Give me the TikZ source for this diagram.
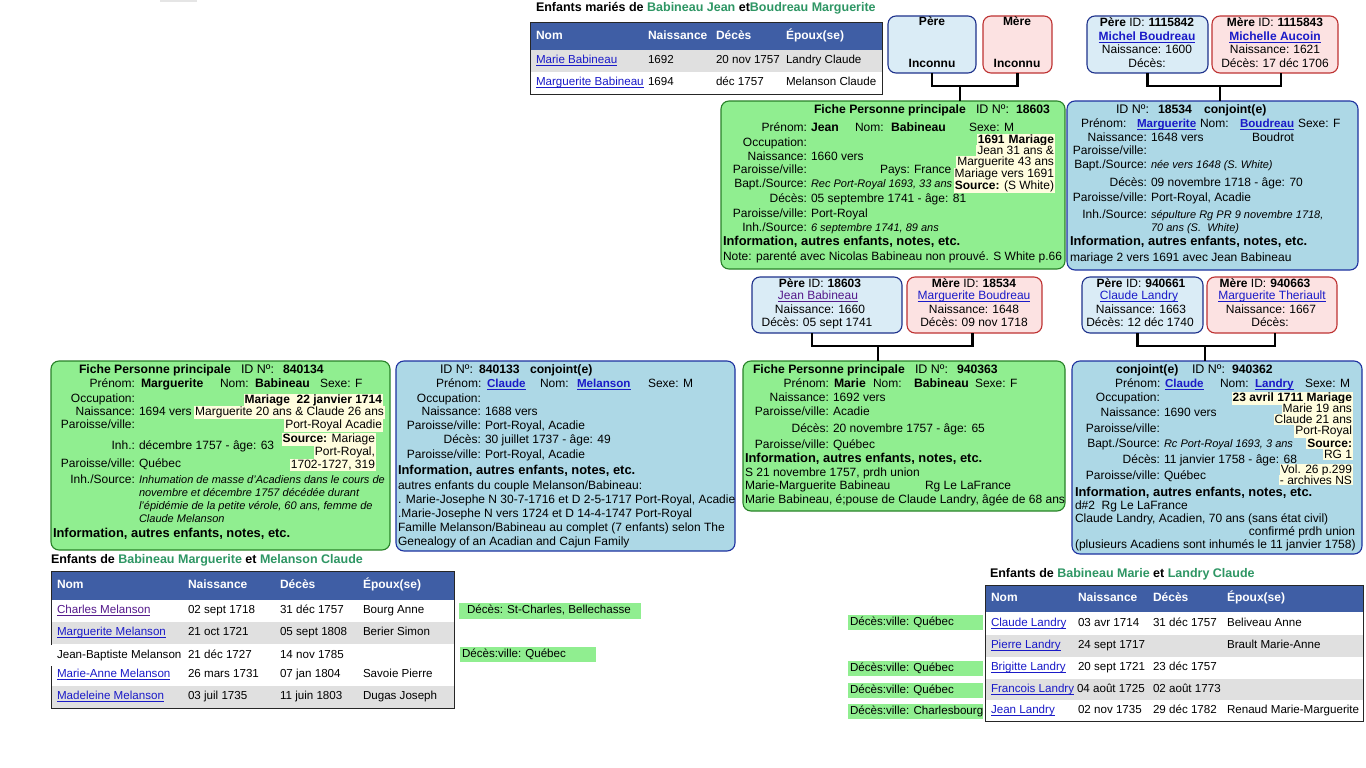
\documentclass[tikz,border=0pt]{standalone}
\usepackage{fontspec}
\setmainfont{Liberation Sans}
\definecolor{gfill}{RGB}{144,238,144}
\definecolor{gline}{RGB}{40,130,40}
\definecolor{bfill}{RGB}{173,216,230}
\definecolor{bline}{RGB}{30,50,160}
\definecolor{pfill}{RGB}{218,236,246}
\definecolor{pline}{RGB}{30,50,140}
\definecolor{mfill}{RGB}{252,226,226}
\definecolor{mline}{RGB}{190,50,50}
\definecolor{hdr}{RGB}{63,94,165}
\definecolor{rowg}{RGB}{224,224,224}
\definecolor{lnk}{RGB}{26,26,200}
\definecolor{vis}{RGB}{85,26,139}
\definecolor{grn}{RGB}{46,150,100}
\definecolor{hl}{RGB}{255,253,222}
\definecolor{lbl}{RGB}{144,238,144}
\newcommand\ulx[1]{\setbox0\hbox{#1}\rlap{\rule[-2pt]{\wd0}{0.7pt}}\box0}
\newcommand\lk[1]{\textcolor{lnk}{\ulx{#1}}}
\newcommand\vk[1]{\textcolor{vis}{\ulx{#1}}}
\newcommand\gsp{\hspace{4pt}}
\newcounter{nn}
\tikzset{
 autoname/.code={\stepcounter{nn}\pgfkeysalso{name/.expanded=t\arabic{nn}}},
 tx/.style={inner sep=0pt, outer sep=0pt, font=\fontsize{12}{14}\selectfont, autoname},
 bf/.style={font=\fontsize{12.2}{14}\selectfont\bfseries},
 info/.style={font=\fontsize{12.9}{14}\selectfont\bfseries},
 it/.style={font=\fontsize{11}{13}\selectfont\itshape},
 idn/.style={font=\fontsize{12.5}{14}\selectfont},
 lkb/.style={font=\fontsize{11.6}{14}\selectfont\bfseries},
 ttl/.style={font=\fontsize{12.5}{14}\selectfont\bfseries},
 tb/.style={font=\fontsize{11.6}{14}\selectfont},
 wh/.style={text=white, font=\fontsize{12}{14}\selectfont\bfseries},
 hlt/.style={fill=hl, inner xsep=1pt, inner ysep=0.8pt},
 pm/.style={font=\fontsize{12}{14}\selectfont},
 lb/.style={font=\fontsize{11.6}{14}\selectfont},
 boxbase/.style={line width=1.1pt, rounded corners=8pt, anchor=north west, inner sep=0pt, outer sep=0pt},
 gbox/.style={boxbase, draw=gline, fill=gfill},
 bbox/.style={boxbase, draw=bline, fill=bfill},
 pbox/.style={boxbase, draw=pline, fill=pfill},
 mbox/.style={boxbase, draw=mline, fill=mfill},
 brk/.style={line width=2.6pt},
 tbl/.style={draw=black!85, line width=1.2pt},
}
\newcommand\txL[4][]{\node[tx,anchor=mid west,#1] at (#2,#3) {#4};}
\newcommand\txR[4][]{\node[tx,anchor=mid east,#1] at (#2,#3) {#4};}
\newcommand\txC[4][]{\node[tx,anchor=mid,#1] at (#2,#3) {#4};}
\newcommand\lv[5][]{\node[tx,anchor=mid east] at (#2,#3) {#4};\node[tx,anchor=mid west,#1] at (#2+4,#3) {#5};}
\begin{document}
\begin{tikzpicture}[x=1pt,y=-1pt]
\useasboundingbox[fill=white] (0,0) rectangle (1366,768);
\fill[gray!20] (160,0) rectangle (197,2);

% ---------- boxes ----------
\node[pbox, minimum width=88pt, minimum height=57pt] (p0) at (888,16) {};
\node[mbox, minimum width=69pt, minimum height=57pt] (m0) at (983,16) {};
\node[pbox, minimum width=121pt, minimum height=57pt] (p1) at (1087,16) {};
\node[mbox, minimum width=126pt, minimum height=57pt] (m1) at (1212,16) {};
\node[gbox, minimum width=344pt, minimum height=168pt] (f0) at (721,101) {};
\node[bbox, minimum width=291pt, minimum height=169pt] (c0) at (1067,101) {};
\node[pbox, minimum width=150pt, minimum height=56pt] (p2) at (752,277) {};
\node[mbox, minimum width=135pt, minimum height=56pt] (m2) at (907,277) {};
\node[pbox, minimum width=121pt, minimum height=56pt] (p3) at (1082,277) {};
\node[mbox, minimum width=130pt, minimum height=56pt] (m3) at (1207,277) {};
\node[gbox, minimum width=339pt, minimum height=189pt] (f1) at (51,361) {};
\node[bbox, minimum width=339pt, minimum height=190pt] (c1) at (396,361) {};
\node[gbox, minimum width=322pt, minimum height=150pt] (f2) at (743,361) {};
\node[bbox, minimum width=290pt, minimum height=193pt] (c2) at (1072,361) {};

% ---------- brackets ----------
\coordinate (k0) at (960,86);
\draw[brk] (p0.south) |- (k0) -| (m0.south);
\draw[brk] (k0) -- (k0 |- f0.north);
\coordinate (k1) at (1220,86);
\draw[brk] (p1.south) |- (k1) -| ([xshift=6pt]m1.south);
\draw[brk] (k1) -- (k1 |- c0.north);
\coordinate (k2) at (878,346);
\draw[brk] ([xshift=-15pt]p2.south) |- (k2) -| ([xshift=-2pt]m2.south);
\draw[brk] (k2) -- (k2 |- f2.north);
\coordinate (k3) at (1205,346);
\draw[brk] ([xshift=-5pt]p3.south) |- (k3) -| ([xshift=3pt]m3.south);
\draw[brk] (k3) -- (k3 |- c2.north);

% ---------- top table ----------
\txL[ttl]{536}{9}{Enfants mariés de \textcolor{grn}{Babineau Jean} et\textcolor{grn}{Boudreau Marguerite}}
\fill[hdr] (531,23) rectangle (882,50);
\fill[rowg] (531,50) rectangle (882,72);
\draw[tbl] (530.5,22.5) rectangle (882.5,94.5);
\txL[wh]{536}{37}{Nom} \txL[wh]{648}{37}{Naissance} \txL[wh]{716}{37}{Décès} \txL[wh]{786}{37}{Époux(se)}
\txL[tb]{536}{61}{\lk{Marie Babineau}} \txL[tb]{648}{61}{1692} \txL[tb]{716}{61}{20 nov 1757} \txL[tb]{786}{61}{Landry Claude}
\txL[tb]{536}{83}{\lk{Marguerite Babineau}} \txL[tb]{648}{83}{1694} \txL[tb]{716}{83}{déc 1757} \txL[tb]{786}{83}{Melanson Claude}

% ---------- top parents ----------
\txC[pm]{932}{23}{\textbf{Père}} \txC[pm]{932}{65}{\textbf{Inconnu}}
\txC[pm]{1017}{23}{\textbf{Mère}} \txC[pm]{1017}{65}{\textbf{Inconnu}}
\txC[pm]{1147}{24}{\textbf{Père} ID:\gsp\textbf{1115842}}
\txC[pm]{1147}{38}{\textbf{\lk{Michel Boudreau}}}
\txC[pm]{1147}{51}{Naissance:\gsp 1600}
\txC[pm]{1147}{65}{Décès:}
\txC[pm]{1275}{24}{\textbf{Mère} ID:\gsp\textbf{1115843}}
\txC[pm]{1275}{38}{\textbf{\lk{Michelle Aucoin}}}
\txC[pm]{1275}{51}{Naissance:\gsp 1621}
\txC[pm]{1275}{65}{Décès:\gsp 17 déc 1706}

% ---------- f0 : Jean Babineau ----------
\txL[bf]{814}{111}{Fiche Personne principale} \txL[idn]{976}{111}{ID Nº:} \txL[bf]{1016}{111}{18603}
\txR{807}{129}{Prénom:} \txL[bf]{811}{129}{Jean} \txL{855}{129}{Nom:} \txL[bf]{891}{129}{Babineau} \txL{969}{129}{Sexe: M}
\lv{807}{144}{Occupation:}{}
\lv{807}{158}{Naissance:}{1660 vers}
\lv{807}{171}{Paroisse/ville:}{} \txL{880}{171}{Pays:\gsp France}
\lv[it]{807}{185}{Bapt./Source:}{Rec Port-Royal 1693, 33 ans}
\lv{807}{200}{Décès:}{05 septembre 1741 - âge: 81}
\lv{807}{215}{Paroisse/ville:}{Port-Royal}
\lv[it]{807}{229}{Inh./Source:}{6 septembre 1741, 89 ans}
\txL[info]{723}{243}{Information, autres enfants, notes, etc.}
\txL{723}{258}{Note: parenté avec Nicolas Babineau non prouvé. S White p.66}
\txR[hlt]{1055}{141}{\textbf{1691\gsp Mariage}}
\txR[hlt]{1055}{152}{Jean 31 ans \&}
\txR[hlt]{1055}{163}{Marguerite 43 ans}
\txR[hlt]{1055}{175}{Mariage vers 1691}
\txR[hlt]{1055}{187}{\textbf{Source:} (S White)}

% ---------- c0 : Marguerite Boudreau ----------
\txL[idn]{1116}{111}{ID Nº:} \txL[bf]{1158}{111}{18534} \txL[bf]{1204}{111}{conjoint(e)}
\txL{1081}{125}{Prénom:} \txL[lkb]{1137}{125}{\lk{Marguerite}} \txL{1200}{125}{Nom:} \txL[lkb]{1240}{125}{\lk{Boudreau}} \txL{1298}{125}{Sexe: F}
\lv{1147}{139}{Naissance:}{1648 vers} \txL{1252}{139}{Boudrot}
\lv{1147}{152}{Paroisse/ville:}{}
\lv[it]{1147}{166}{Bapt./Source:}{née vers 1648 (S. White)}
\lv{1147}{184}{Décès:}{09 novembre 1718 - âge: 70}
\lv{1147}{199}{Paroisse/ville:}{Port-Royal, Acadie}
\lv[it]{1147}{216}{Inh./Source:}{sépulture Rg PR 9 novembre 1718,}
\txL[it]{1151}{229}{70 ans (S.\ \ White)}
\txL[info]{1070}{243}{Information, autres enfants, notes, etc.}
\txL{1070}{259}{mariage 2 vers 1691 avec Jean Babineau}

% ---------- middle parents ----------
\txC[pm]{820}{285}{\textbf{Père} ID:\gsp\textbf{18603}}
\txC[pm]{818}{297}{\vk{Jean Babineau}}
\txC[pm]{820}{311}{Naissance:\gsp 1660}
\txC[pm]{817}{324}{Décès:\gsp 05 sept 1741}
\txC[pm]{974}{285}{\textbf{Mère} ID:\gsp\textbf{18534}}
\txC[pm]{974}{297}{\lk{Marguerite Boudreau}}
\txC[pm]{974}{311}{Naissance:\gsp 1648}
\txC[pm]{974}{324}{Décès:\gsp 09 nov 1718}
\txC[pm]{1141}{285}{\textbf{Père} ID:\gsp\textbf{940661}}
\txC[pm]{1139}{297}{\lk{Claude Landry}}
\txC[pm]{1141}{311}{Naissance:\gsp 1663}
\txC[pm]{1140}{324}{Décès:\gsp 12 déc 1740}
\txC[pm]{1265}{285}{\textbf{Mère} ID:\gsp\textbf{940663}}
\txC[pm]{1272}{297}{\lk{Marguerite Theriault}}
\txC[pm]{1271}{311}{Naissance:\gsp 1667}
\txC[pm]{1270}{324}{Décès:}

% ---------- f1 : Marguerite Babineau ----------
\txL[bf]{79}{371}{Fiche Personne principale} \txL[idn]{241}{371}{ID Nº:} \txL[bf]{283}{371}{840134}
\txR{135}{385}{Prénom:} \txL[bf]{141}{385}{Marguerite} \txL{220}{385}{Nom:} \txL[bf]{255}{385}{Babineau} \txL{320}{385}{Sexe: F}
\lv{135}{400}{Occupation:}{}
\lv{135}{413}{Naissance:}{1694 vers}
\lv{135}{426}{Paroisse/ville:}{}
\lv{135}{447}{Inh.:}{décembre 1757 - âge: 63}
\lv{135}{465}{Paroisse/ville:}{Québec}
\lv[it]{135}{481}{Inh./Source:}{Inhumation de masse d'Acadiens dans le cours de}
\txL[it]{139}{494}{novembre et décembre 1757 décédée durant}
\txL[it]{139}{507}{l'épidémie de la petite vérole, 60 ans, femme de}
\txL[it]{139}{520}{Claude Melanson}
\txL[info]{53}{535}{Information, autres enfants, notes, etc.}
\txR[hlt]{383}{401}{\textbf{Mariage\ \ 22 janvier 1714}}
\txR[hlt]{385}{413}{Marguerite 20 ans \& Claude 26 ans}
\txR[hlt]{383}{426}{Port-Royal Acadie}
\txR[hlt]{376}{440}{\textbf{Source:} Mariage}
\txR[hlt]{376}{453}{Port-Royal,}
\txR[hlt]{376}{466}{1702-1727, 319}

% ---------- c1 : Claude Melanson ----------
\txL[idn]{440}{371}{ID Nº:} \txL[bf]{479}{371}{840133} \txL[bf]{530}{371}{conjoint(e)}
\txL{436}{385}{Prénom:} \txL[lkb]{487}{385}{\lk{Claude}} \txL{540}{385}{Nom:} \txL[lkb]{577}{385}{\lk{Melanson}} \txL{648}{385}{Sexe: M}
\lv{481}{400}{Occupation:}{}
\lv{481}{413}{Naissance:}{1688 vers}
\lv{481}{427}{Paroisse/ville:}{Port-Royal, Acadie}
\lv{481}{441}{Décès:}{30 juillet 1737 - âge: 49}
\lv{481}{456}{Paroisse/ville:}{Port-Royal, Acadie}
\txL[info]{398}{472}{Information, autres enfants, notes, etc.}
\txL{398}{487}{autres enfants du couple Melanson/Babineau:}
\txL{398}{501}{. Marie-Josephe N 30-7-1716 et D 2-5-1717 Port-Royal, Acadie}
\txL{398}{515}{.Marie-Josephe N vers 1724 et D 14-4-1747 Port-Royal}
\txL{398}{529}{Famille Melanson/Babineau au complet (7 enfants) selon The}
\txL{398}{543}{Genealogy of an Acadian and Cajun Family}

% ---------- f2 : Marie Babineau ----------
\txL[bf]{753}{371}{Fiche Personne principale} \txL[idn]{915}{371}{ID Nº:} \txL[bf]{957}{371}{940363}
\txR{829}{385}{Prénom:} \txL[bf]{834}{385}{Marie} \txL{873}{385}{Nom:} \txL[bf]{914}{385}{Babineau} \txL{975}{385}{Sexe: F}
\lv{829}{399}{Naissance:}{1692 vers}
\lv{829}{413}{Paroisse/ville:}{Acadie}
\lv{829}{430}{Décès:}{20 novembre 1757 - âge: 65}
\lv{829}{446}{Paroisse/ville:}{Québec}
\txL[info]{745}{460}{Information, autres enfants, notes, etc.}
\txL{745}{474}{S 21 novembre 1757, prdh union}
\txL{745}{487}{Marie-Marguerite Babineau} \txL{925}{487}{Rg Le LaFrance}
\txL{745}{501}{Marie Babineau, é;pouse de Claude Landry, âgée de 68 ans}

% ---------- c2 : Claude Landry ----------
\txL[bf]{1116}{371}{conjoint(e)} \txL[idn]{1192}{371}{ID Nº:} \txL[bf]{1232}{371}{940362}
\txL{1115}{385}{Prénom:} \txL[lkb]{1165}{385}{\lk{Claude}} \txL{1220}{385}{Nom:} \txL[lkb]{1255}{385}{\lk{Landry}} \txL{1305}{385}{Sexe: M}
\lv{1160}{399}{Occupation:}{}
\lv{1160}{414}{Naissance:}{1690 vers}
\lv{1160}{430}{Paroisse/ville:}{}
\lv[it]{1160}{445}{Bapt./Source:}{Rc Port-Royal 1693, 3 ans}
\lv{1160}{461}{Décès:}{11 janvier 1758 - âge: 68}
\lv{1160}{477}{Paroisse/ville:}{Québec}
\txL[info]{1075}{494}{Information, autres enfants, notes, etc.}
\txL{1075}{507}{d\#2\ \ Rg Le LaFrance}
\txL{1075}{520}{Claude Landry, Acadien, 70 ans (sans état civil)}
\txR{1355}{533}{confirmé prdh union}
\txL{1075}{546}{(plusieurs Acadiens sont inhumés le 11 janvier 1758)}
\txR[hlt]{1353}{399}{\textbf{23 avril 1711 Mariage}}
\txR[hlt]{1353}{410}{Marie 19 ans}
\txR[hlt]{1353}{421}{Claude 21 ans}
\txR[hlt]{1353}{432}{Port-Royal}
\txR[hlt]{1353}{445}{\textbf{Source:}}
\txR[hlt]{1353}{456}{RG 1}
\txR[hlt]{1353}{471}{Vol. 26 p.299}
\txR[hlt]{1353}{481.5}{- archives NS}

% ---------- bottom-left table ----------
\txL[ttl]{51}{561}{Enfants de \textcolor{grn}{Babineau Marguerite} et \textcolor{grn}{Melanson Claude}}
\fill[hdr] (52,572) rectangle (454,600);
\fill[rowg] (52,622) rectangle (454,644);
\fill[rowg] (52,686) rectangle (454,708);
\draw[tbl] (51.5,645) -- (51.5,571.5) -- (454.5,571.5) -- (454.5,708.5) -- (51.5,708.5) -- (51.5,666);
\txL[wh]{57}{586}{Nom} \txL[wh]{188}{586}{Naissance} \txL[wh]{280}{586}{Décès} \txL[wh]{363}{586}{Époux(se)}
\txL[tb]{57}{611}{\vk{Charles Melanson}} \txL[tb]{188}{611}{02 sept 1718} \txL[tb]{280}{611}{31 déc 1757} \txL[tb]{363}{611}{Bourg Anne}
\txL[tb]{57}{633}{\lk{Marguerite Melanson}} \txL[tb]{188}{633}{21 oct 1721} \txL[tb]{280}{633}{05 sept 1808} \txL[tb]{363}{633}{Berier Simon}
\txL[tb]{57}{656}{Jean-Baptiste Melanson} \txL[tb]{188}{656}{21 déc 1727} \txL[tb]{280}{656}{14 nov 1785}
\txL[tb]{57}{675}{\lk{Marie-Anne Melanson}} \txL[tb]{188}{675}{26 mars 1731} \txL[tb]{280}{675}{07 jan 1804} \txL[tb]{363}{675}{Savoie Pierre}
\txL[tb]{57}{697}{\lk{Madeleine Melanson}} \txL[tb]{188}{697}{03 juil 1735} \txL[tb]{280}{697}{11 juin 1803} \txL[tb]{363}{697}{Dugas Joseph}
\fill[lbl] (459,603) rectangle (641,619);
\txL[lb]{467}{611}{Décès:\gsp St-Charles, Bellechasse}
\fill[lbl] (460,647) rectangle (596,662);
\txL[lb]{462}{655}{Décès:ville:\gsp Québec}

% ---------- bottom-right table ----------
\txL[ttl]{990}{575}{Enfants de \textcolor{grn}{Babineau Marie} et \textcolor{grn}{Landry Claude}}
\fill[hdr] (986,586) rectangle (1363,612);
\fill[rowg] (986,635) rectangle (1363,657);
\fill[rowg] (986,679) rectangle (1363,700);
\draw[tbl] (985.5,585.5) rectangle (1363.5,721.5);
\txL[wh]{991}{599}{Nom} \txL[wh]{1078}{599}{Naissance} \txL[wh]{1153}{599}{Décès} \txL[wh]{1227}{599}{Époux(se)}
\txL[tb]{991}{624}{\lk{Claude Landry}} \txL[tb]{1078}{624}{03 avr 1714} \txL[tb]{1153}{624}{31 déc 1757} \txL[tb]{1227}{624}{Beliveau Anne}
\txL[tb]{991}{646}{\lk{Pierre Landry}} \txL[tb]{1078}{646}{24 sept 1717} \txL[tb]{1227}{646}{Brault Marie-Anne}
\txL[tb]{991}{668}{\lk{Brigitte Landry}} \txL[tb]{1078}{668}{20 sept 1721} \txL[tb]{1153}{668}{23 déc 1757}
\txL[tb]{991}{690}{\lk{Francois Landry}} \txL[tb]{1077}{690}{04 août 1725} \txL[tb]{1153}{690}{02 août 1773}
\txL[tb]{991}{711}{\lk{Jean Landry}} \txL[tb]{1078}{711}{02 nov 1735} \txL[tb]{1153}{711}{29 déc 1782} \txL[tb]{1227}{711}{Renaud Marie-Marguerite}
\fill[lbl] (848,615) rectangle (983,630);
\txL[lb]{850}{622.5}{Décès:ville:\gsp Québec}
\fill[lbl] (848,661) rectangle (983,676);
\txL[lb]{850}{668.5}{Décès:ville:\gsp Québec}
\fill[lbl] (848,683) rectangle (983,698);
\txL[lb]{850}{690.5}{Décès:ville:\gsp Québec}
\fill[lbl] (848,704) rectangle (983,719);
\txL[lb]{850}{711.5}{Décès:ville: Charlesbourg}
\end{tikzpicture}
\end{document}
